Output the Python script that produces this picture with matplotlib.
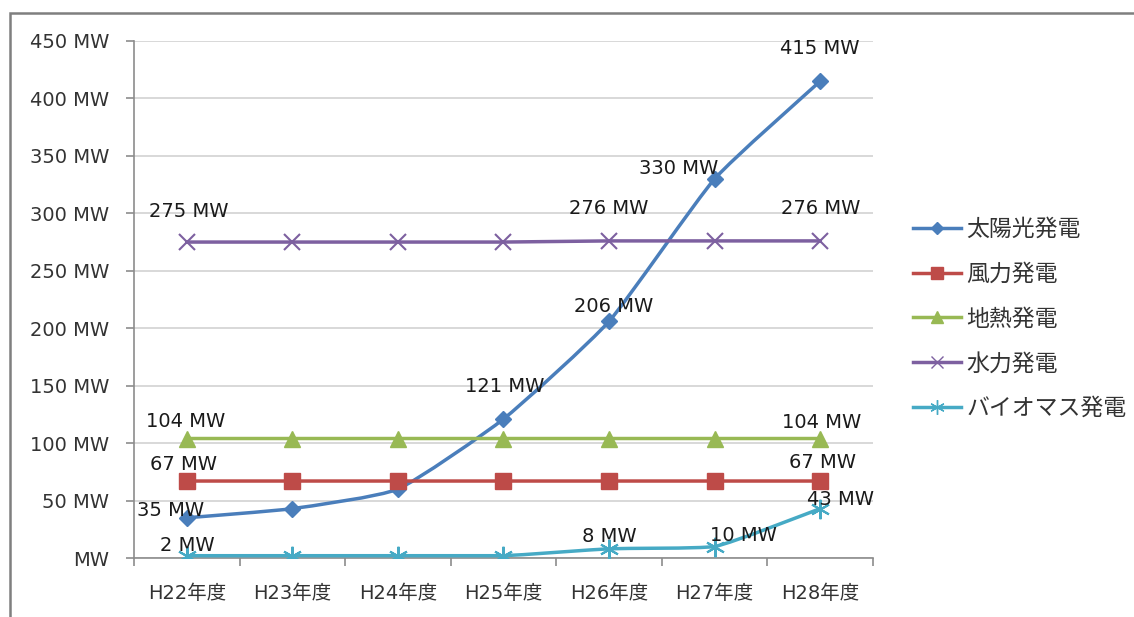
import numpy as np
import matplotlib.pyplot as plt
from matplotlib.path import Path
from matplotlib.patches import PathPatch, Rectangle
from matplotlib.lines import Line2D

plt.rcParams['font.family'] = ['DejaVu Sans', 'Noto Sans CJK JP']

# 年度別の発電設備容量 (MW)
years = ['H22年度', 'H23年度', 'H24年度', 'H25年度', 'H26年度', 'H27年度', 'H28年度']
series_names = ['太陽光発電', '風力発電', '地熱発電', '水力発電', 'バイオマス発電']
solar = [35, 43, 60, 121, 206, 330, 415]
wind = [67, 67, 67, 67, 67, 67, 67]
geothermal = [104, 104, 104, 104, 104, 104, 104]
hydro = [275, 275, 275, 275, 276, 276, 276]
biomass = [2, 2, 2, 2, 8, 10, 43]
y_ticks = [0, 50, 100, 150, 200, 250, 300, 350, 400, 450]

# 系列ごとの色・マーカー
colors = ['#4A7EBB', '#BE4B48', '#98B954', '#7D60A0', '#46AAC5']
markers = ['D', 's', '^', 'x', (6, 2, 0)]
msizes = [8, 11, 11, 11, 14]

# ラベルを付ける点と表示位置 (px)
label_pos = [
    {0: (-16, 7), 3: (1, 32), 4: (5, 15), 5: (-36, 10), 6: (0, 33)},
    {0: (-3, 17), 6: (2, 19)},
    {0: (-1, 17), 6: (1, 16)},
    {0: (2, 31), 4: (0, 32), 6: (0, 32)},
    {0: (1, 10), 4: (0, 12), 5: (29, 11), 6: (20, 9)},
]


def smooth_path(xs, ys, tension=1 / 12):
    # Excelの平滑線に近いベジェ曲線 (行き過ぎを抑える)
    pts = np.column_stack([xs, ys]).astype(float)
    ext = np.vstack([pts[0], pts, pts[-1]])
    verts = [tuple(pts[0])]
    codes = [Path.MOVETO]
    for i in range(len(pts) - 1):
        p0, p1, p2, p3 = ext[i], ext[i + 1], ext[i + 2], ext[i + 3]
        c1 = p1 + (p2 - p0) * tension
        c2 = p2 - (p3 - p1) * tension
        lo, hi = min(p1[1], p2[1]), max(p1[1], p2[1])
        c1[1] = np.clip(c1[1], lo, hi)
        c2[1] = np.clip(c2[1], lo, hi)
        verts += [tuple(c1), tuple(c2), tuple(p2)]
        codes += [Path.CURVE4] * 3
    return Path(verts, codes)


fig = plt.figure(figsize=(11.34, 6.17), dpi=100)
ax = fig.add_axes([134 / 1134, 1 - 558 / 617, (873 - 134) / 1134, (558 - 41) / 617])

x = np.arange(len(years))
all_series = [solar, wind, geothermal, hydro, biomass]
handles = []
for k, vals in enumerate(all_series):
    ax.add_patch(PathPatch(smooth_path(x, vals), fill=False, edgecolor=colors[k],
                           lw=2.5, zorder=3, capstyle='round'))
    ax.plot(x, vals, linestyle='none', marker=markers[k], markersize=msizes[k],
            color=colors[k], markeredgewidth=1.5 if k >= 3 else 1.0, zorder=4)
    handles.append(Line2D([], [], color=colors[k], lw=2.5, marker=markers[k],
                          markersize=msizes[k] * 0.75, markeredgewidth=1.0))
    for i, (dx, dy) in label_pos[k].items():
        ax.annotate(f'{vals[i]} MW', (x[i], vals[i]), xytext=(dx, dy),
                    textcoords='offset pixels', ha='center', va='center',
                    fontsize=14, color='#1a1a1a', zorder=5)

ax.set_xlim(-0.5, len(years) - 0.5)
ax.set_ylim(0, 450)
ax.set_yticks(y_ticks)
ax.set_yticklabels([f'{v} MW' if v else 'MW' for v in y_ticks])
ax.set_xticks(x)
ax.set_xticklabels(years)
ax.set_xticks(np.arange(-0.5, len(years)), minor=True)

ax.grid(axis='y', color='#D6D6D6', lw=1.3, zorder=0)
for s in ['top', 'right']:
    ax.spines[s].set_visible(False)
for s in ['left', 'bottom']:
    ax.spines[s].set_color('#8C8C8C')
    ax.spines[s].set_linewidth(1.2)

ax.tick_params(axis='y', length=6, width=1.2, color='#8C8C8C', pad=12,
               labelsize=14, labelcolor='#333333')
ax.tick_params(axis='x', which='major', length=0, pad=19,
               labelsize=14, labelcolor='#333333')
ax.tick_params(axis='x', which='minor', length=6, width=1.2, color='#8C8C8C')

fig.legend(handles, series_names, loc='center left',
           bbox_to_anchor=(892 / 1134, 1 - 319 / 617), frameon=False,
           fontsize=16.5, handlelength=2.1, handletextpad=0.25, labelspacing=0.95,
           labelcolor='#333333')

# グラフ全体の枠線
fig.add_artist(Rectangle((10 / 1134, -0.1), 1.2, 1.1 - 13 / 617,
                         transform=fig.transFigure, fill=False,
                         edgecolor='#7F7F7F', lw=1.8))

fig.savefig('out.png', dpi=100)
